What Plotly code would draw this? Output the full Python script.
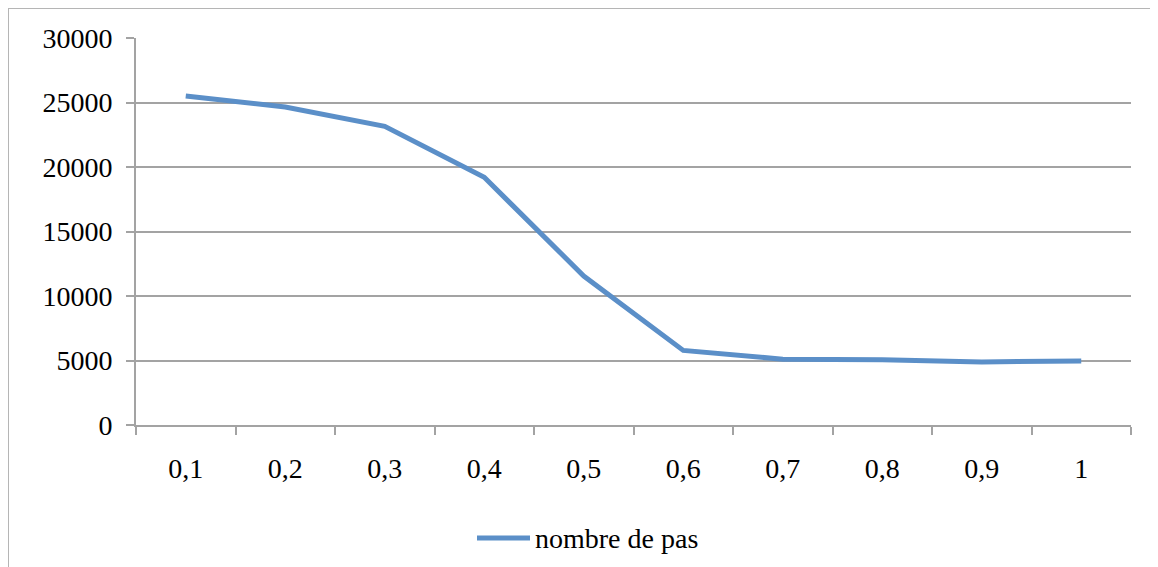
import plotly.graph_objects as go

categories = ["0,1", "0,2", "0,3", "0,4", "0,5", "0,6", "0,7", "0,8", "0,9", "1"]
nombre_de_pas = [25500, 24650, 23150, 19200, 11550, 5780, 5100, 5060, 4890, 4960]
y_ticks = [0, 5000, 10000, 15000, 20000, 25000, 30000]
series_name = "nombre de pas"

FONT = "Liberation Serif, DejaVu Serif, serif"
GRID = "#a3a3a3"
BLUE = "#5b8fc8"

fig = go.Figure()
fig.add_trace(go.Scatter(
    x=categories, y=nombre_de_pas, mode="lines", name=series_name,
    line=dict(color=BLUE, width=5, shape="linear"), showlegend=False,
))

# page has an 8px body margin; work in figure coordinates
OFF = 8
L, R, T, B = 136 - OFF, 1131 - OFF, 38 - OFF, 425 - OFF
W, H = 1150, 559

px = lambda v: (v - OFF - L) / (R - L)
py = lambda v: (B - (v - OFF)) / (B - T)

fig.update_layout(
    width=W, height=H,
    margin=dict(l=L, r=W - R, t=T, b=H - B),
    paper_bgcolor="white", plot_bgcolor="white",
    font=dict(family=FONT, size=28, color="#000000"),
    showlegend=False,
    xaxis=dict(
        type="category", range=[-0.5, 9.5], showgrid=False,
        showline=True, linecolor=GRID, linewidth=2,
        ticks="outside", tickson="boundaries", ticklen=8, tickwidth=2, tickcolor=GRID,
        ticklabelstandoff=17, zeroline=False,
    ),
    yaxis=dict(
        range=[0, 30000], tickvals=y_ticks, ticktext=[str(v) for v in y_ticks],
        showgrid=True, gridcolor=GRID, gridwidth=2,
        showline=True, linecolor=GRID, linewidth=2,
        ticks="outside", ticklen=8, tickwidth=2, tickcolor=GRID,
        ticklabelstandoff=8, zeroline=False,
    ),
)

# outer chart border (partly cropped in the reference)
fig.add_shape(type="rect", xref="paper", yref="paper",
              x0=px(8), x1=px(1175), y0=py(590), y1=py(8),
              line=dict(color="#b5b5b5", width=2), fillcolor="rgba(0,0,0,0)", layer="below")

# legend (drawn manually to match the long sample line)
fig.add_shape(type="line", xref="paper", yref="paper",
              x0=px(477), x1=px(530), y0=py(538), y1=py(538),
              line=dict(color=BLUE, width=5))
fig.add_annotation(text=series_name, xref="paper", yref="paper",
                   x=px(533), y=py(538), xanchor="left", yanchor="middle",
                   showarrow=False, font=dict(family=FONT, size=28, color="#000000"))

fig.write_html("out.html")
